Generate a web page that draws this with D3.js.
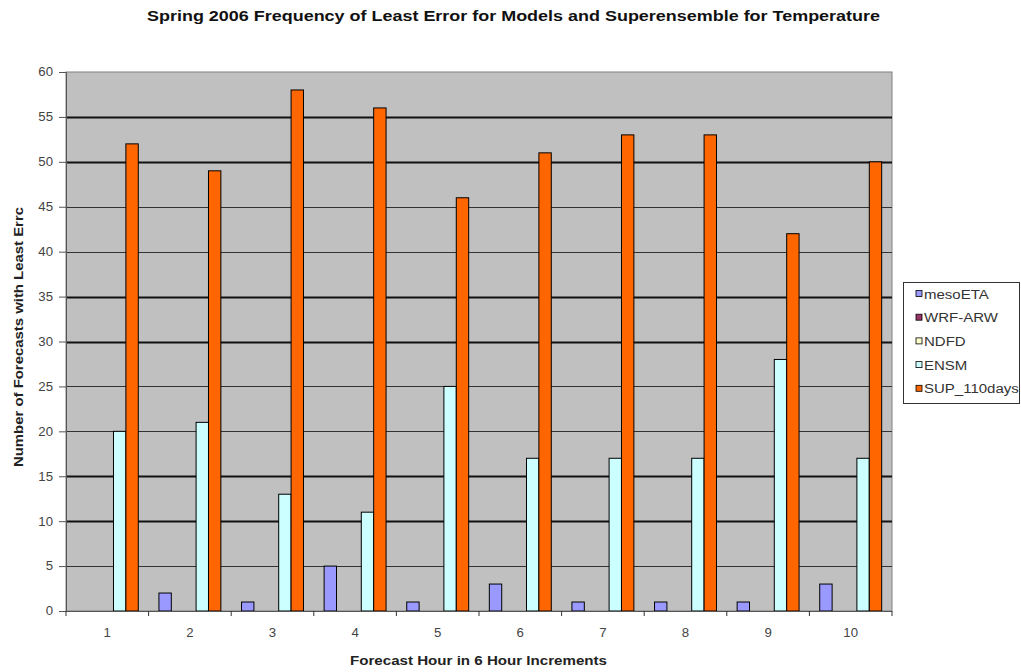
<!DOCTYPE html>
<html>
<head>
<meta charset="utf-8">
<script src="https://cdn.jsdelivr.net/npm/d3@7/dist/d3.min.js"></script>
<style>
  html, body { margin: 0; padding: 0; background: #fff; }
  svg { display: block; font-family: "Liberation Sans", Arial, sans-serif; }
</style>
</head>
<body>
<svg id="chart" width="1021" height="672"></svg>
<script>
// Forecast hours (6-hour increments)
const categories = ["1", "2", "3", "4", "5", "6", "7", "8", "9", "10"];

// Count of forecasts with least error, per model
const mesoETA    = [0, 2, 1, 5, 1, 3, 1, 1, 1, 3];
const wrfArw     = [0, 0, 0, 0, 0, 0, 0, 0, 0, 0];
const ndfd       = [0, 0, 0, 0, 0, 0, 0, 0, 0, 0];
const ensm       = [20, 21, 13, 11, 25, 17, 17, 17, 28, 17];
const sup110days = [52, 49, 58, 56, 46, 51, 53, 53, 42, 50];

const seriesNames  = ["mesoETA", "WRF-ARW", "NDFD", "ENSM", "SUP_110days"];
const seriesValues = [mesoETA, wrfArw, ndfd, ensm, sup110days];
const seriesColors = ["#9999FF", "#993366", "#FFFFCC", "#CCFFFF", "#FF6600"];

const yTicks = [0, 5, 10, 15, 20, 25, 30, 35, 40, 45, 50, 55, 60];

const svg = d3.select("#chart");
const plot = { left: 66, right: 892, top: 72, bottom: 611 };

// Stretch a text element horizontally by a factor, keeping it as real text
function widen(sel, factor) {
  sel.each(function () {
    const w = this.getComputedTextLength();
    d3.select(this).attr("textLength", w * factor).attr("lengthAdjust", "spacingAndGlyphs");
  });
}

const x = d3.scaleBand().domain(categories).range([plot.left, plot.right]).padding(0);
const inner = d3.scaleBand().domain(seriesNames)
  .range([x.bandwidth() * 0.125, x.bandwidth() * 0.875]).padding(0);
const y = d3.scaleLinear().domain([0, 60]).range([plot.bottom, plot.top]);

// Title
svg.append("text")
  .attr("x", 513.5).attr("y", 21)
  .attr("text-anchor", "middle")
  .attr("font-size", 15.5).attr("font-weight", "bold").attr("fill", "#111")
  .attr("textLength", 733).attr("lengthAdjust", "spacingAndGlyphs")
  .text("Spring 2006 Frequency of Least Error for Models and Superensemble for Temperature");

// Plot area background
svg.append("rect")
  .attr("x", plot.left).attr("y", plot.top)
  .attr("width", plot.right - plot.left).attr("height", plot.bottom - plot.top)
  .attr("fill", "#C0C0C0").attr("stroke", "#808080").attr("stroke-width", 1);

// Horizontal gridlines
const heavy = new Set([10, 15, 30, 35, 50, 55]);
svg.append("g").selectAll("line")
  .data(yTicks.filter(d => d > 0 && d < 60))
  .join("line")
  .attr("x1", plot.left).attr("x2", plot.right)
  .attr("y1", d => Math.round(y(d)) + 0.5).attr("y2", d => Math.round(y(d)) + 0.5)
  .attr("stroke", d => heavy.has(d) ? "#111" : "#333")
  .attr("stroke-width", d => heavy.has(d) ? 2 : 1);

// Bars
const groups = svg.append("g").selectAll("g")
  .data(categories)
  .join("g")
  .attr("transform", d => `translate(${x(d)},0)`);

groups.selectAll("rect")
  .data((c, i) => seriesNames.map((s, k) => ({ s, k, v: seriesValues[k][i] })))
  .join("rect")
  .filter(d => d.v > 0)
  .attr("x", d => inner(d.s))
  .attr("y", d => y(d.v))
  .attr("width", inner.bandwidth())
  .attr("height", d => y(0) - y(d.v))
  .attr("fill", d => seriesColors[d.k])
  .attr("stroke", "#000").attr("stroke-width", 1);

// Y axis
const yAxis = d3.axisLeft(y).tickValues(yTicks).tickSize(7).tickPadding(6);
const gy = svg.append("g")
  .attr("transform", `translate(${plot.left},0)`)
  .call(yAxis);
gy.select(".domain").attr("stroke", "#555");
gy.selectAll(".tick line").attr("stroke", "#555");
gy.selectAll(".tick text")
  .attr("font-size", 12).attr("fill", "#444")
  .attr("font-family", "\"Liberation Sans\", Arial, sans-serif")
  .call(widen, 1.1);

// X axis with ticks at category boundaries
const gx = svg.append("g").attr("transform", `translate(0,${plot.bottom})`);
gx.append("line")
  .attr("x1", plot.left).attr("x2", plot.right)
  .attr("y1", 0.5).attr("y2", 0.5)
  .attr("stroke", "#555");
gx.selectAll(".bound")
  .data(d3.range(categories.length + 1))
  .join("line")
  .attr("class", "bound")
  .attr("x1", i => plot.left + i * x.bandwidth())
  .attr("x2", i => plot.left + i * x.bandwidth())
  .attr("y1", 0).attr("y2", 5)
  .attr("stroke", "#333");
gx.selectAll(".lbl")
  .data(categories)
  .join("text")
  .attr("class", "lbl")
  .attr("x", d => x(d) + x.bandwidth() / 2)
  .attr("y", 26)
  .attr("text-anchor", "middle")
  .attr("font-size", 12).attr("fill", "#444")
  .text(d => d)
  .call(widen, 1.1);

// Axis titles
svg.append("text")
  .attr("x", 478.5).attr("y", 665)
  .attr("text-anchor", "middle")
  .attr("font-size", 13).attr("font-weight", "bold").attr("fill", "#222")
  .attr("textLength", 257).attr("lengthAdjust", "spacingAndGlyphs")
  .text("Forecast Hour in 6 Hour Increments");

svg.append("text")
  .attr("transform", "translate(23,337) rotate(-90)")
  .attr("text-anchor", "middle")
  .attr("font-size", 12.5).attr("font-weight", "bold").attr("fill", "#222")
  .attr("textLength", 260).attr("lengthAdjust", "spacingAndGlyphs")
  .text("Number of Forecasts with Least Errc");

// Legend
const legend = svg.append("g").attr("transform", "translate(903,282)");
legend.append("rect")
  .attr("x", 0.5).attr("y", 0.5).attr("width", 116).attr("height", 121)
  .attr("fill", "#fff").attr("stroke", "#333");
const items = legend.selectAll(".item")
  .data(seriesNames)
  .join("g")
  .attr("class", "item")
  .attr("transform", (d, i) => `translate(13,${12 + i * 23.7})`);
items.append("rect")
  .attr("x", 0).attr("y", -3.5).attr("width", 6).attr("height", 6)
  .attr("fill", (d, i) => seriesColors[i]).attr("stroke", "#000").attr("stroke-width", 0.8);
items.append("text")
  .attr("x", 8).attr("y", 4.5)
  .attr("font-size", 12.5).attr("fill", "#333")
  .text(d => d)
  .call(widen, 1.2);
</script>
</body>
</html>
